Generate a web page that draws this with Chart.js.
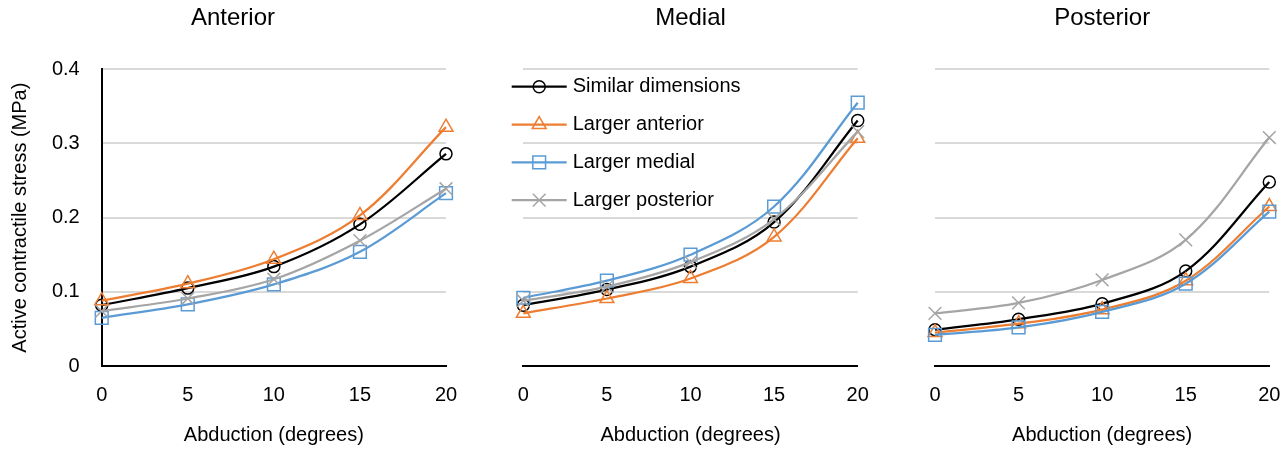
<!DOCTYPE html>
<html>
<head>
<meta charset="utf-8">
<script src="https://cdn.jsdelivr.net/npm/chart.js@4.4.0/dist/chart.umd.min.js"></script>
<style>
  body { margin: 0; background: #fff; }
  #wrap { position: relative; width: 1281px; height: 450px; overflow: hidden; background: #fff; }
  canvas { position: absolute; top: 0; }
</style>
</head>
<body>
<div id="wrap">
  <canvas id="anterior" width="460" height="450" style="left:0px"></canvas>
  <canvas id="medial" width="420" height="450" style="left:460px"></canvas>
  <canvas id="posterior" width="401" height="450" style="left:880px"></canvas>
</div>
<script>
// x categories (abduction angle, degrees)
const abduction = ['0', '5', '10', '15', '20'];
const seriesNames = ['Similar dimensions', 'Larger anterior', 'Larger medial', 'Larger posterior'];

// Anterior panel (MPa)
const antSimilar   = [0.082, 0.105, 0.134, 0.191, 0.286];
const antLargerAnt = [0.088, 0.111, 0.144, 0.203, 0.322];
const antLargerMed = [0.065, 0.083, 0.110, 0.154, 0.233];
const antLargerPost = [0.074, 0.091, 0.117, 0.169, 0.239];

// Medial panel
const medSimilar   = [0.082, 0.103, 0.134, 0.194, 0.331];
const medLargerAnt = [0.071, 0.091, 0.118, 0.174, 0.307];
const medLargerMed = [0.092, 0.115, 0.150, 0.215, 0.355];
const medLargerPost = [0.088, 0.107, 0.140, 0.198, 0.316];

// Posterior panel
const postSimilar   = [0.049, 0.063, 0.084, 0.128, 0.248];
const postLargerAnt = [0.045, 0.057, 0.076, 0.115, 0.215];
const postLargerMed = [0.042, 0.052, 0.073, 0.111, 0.208];
const postLargerPost = [0.071, 0.085, 0.116, 0.170, 0.308];

const FONT = "'Liberation Sans', Arial, sans-serif";
Chart.defaults.font.family = FONT;
Chart.defaults.font.size = 20;
Chart.defaults.color = '#000';

const seriesStyles = [
  { color: '#000000', point: 'circle', r: 6 },
  { color: '#ED7D31', point: 'triangle', r: 8 },
  { color: '#5B9BD5', point: 'rect', r: 9 },
  { color: '#A5A5A5', point: 'crossRot', r: 9 }
];

function makeDatasets(values) {
  return values.map((v, i) => ({
    label: seriesNames[i],
    data: v,
    borderColor: seriesStyles[i].color,
    backgroundColor: 'rgba(0,0,0,0)',
    borderWidth: 2.25,
    pointStyle: seriesStyles[i].point,
    pointRadius: seriesStyles[i].r,
    pointBorderWidth: 1.5,
    pointBorderColor: seriesStyles[i].color,
    pointBackgroundColor: 'rgba(0,0,0,0)',
    tension: 0.35,
    order: 3 - i
  }));
}

// legend drawn as line + marker, like the spreadsheet one
const lineLegend = {
  id: 'lineLegend',
  afterDatasetsDraw(chart, args, opts) {
    if (!opts || !opts.display) return;
    const ctx = chart.ctx;
    const area = chart.chartArea;
    ctx.save();
    chart.data.datasets.forEach((ds, i) => {
      const y = area.top + opts.top + i * opts.rowHeight;
      const x0 = area.left + opts.left;
      ctx.strokeStyle = ds.borderColor;
      ctx.lineWidth = ds.borderWidth;
      ctx.beginPath();
      ctx.moveTo(x0, y);
      ctx.lineTo(x0 + opts.lineLength, y);
      ctx.stroke();
      ctx.lineWidth = ds.pointBorderWidth;
      ctx.fillStyle = 'rgba(0,0,0,0)';
      Chart.helpers.drawPoint(ctx, {
        pointStyle: ds.pointStyle, radius: ds.pointRadius, rotation: 0, borderWidth: ds.pointBorderWidth
      }, x0 + opts.lineLength / 2, y);
      ctx.fillStyle = '#000';
      ctx.font = '20px ' + FONT;
      ctx.textBaseline = 'middle';
      ctx.textAlign = 'left';
      ctx.fillText(ds.label, x0 + opts.lineLength + opts.gap, y);
    });
    ctx.restore();
  }
};

function buildChart(id, title, datasets, pad, showY, legend) {
  return new Chart(document.getElementById(id), {
    type: 'line',
    data: { labels: abduction, datasets: datasets },
    plugins: [lineLegend],
    options: {
      responsive: false,
      animation: false,
      devicePixelRatio: 1,
      layout: { padding: { left: pad.left, right: pad.right, top: 0, bottom: 0 } },
      plugins: {
        legend: { display: false },
        tooltip: { enabled: false },
        title: {
          display: true, text: title, color: '#000',
          font: { size: 24, weight: 'normal' },
          padding: { top: 4, bottom: 36.5 }
        },
        lineLegend: legend
      },
      scales: {
        x: {
          grid: { display: false, drawTicks: false },
          border: { display: true, color: '#000', width: 2 },
          ticks: { padding: 17, maxRotation: 0, autoSkip: false },
          title: { display: true, text: 'Abduction (degrees)', padding: { top: 0, bottom: 3 } },
          afterFit: s => { s.height = 84; s.paddingLeft = 0; s.paddingRight = 0; }
        },
        y: {
          min: 0, max: 0.4,
          grid: {
            color: c => (c.tick && c.tick.value === 0) ? 'rgba(0,0,0,0)' : '#D9D9D9',
            lineWidth: 2, drawTicks: false
          },
          border: { display: showY, color: '#000', width: 2 },
          ticks: { display: showY, stepSize: 0.1, padding: 22 },
          title: {
            display: showY, text: 'Active contractile stress (MPa)',
            padding: { top: -12, bottom: 0 }
          },
          afterFit: s => { s.width = pad.yWidth; }
        }
      }
    }
  });
}

buildChart('anterior', 'Anterior',
  makeDatasets([antSimilar, antLargerAnt, antLargerMed, antLargerPost]),
  { left: 20, right: 14, yWidth: 81.7 }, true, { display: false });

buildChart('medial', 'Medial',
  makeDatasets([medSimilar, medLargerAnt, medLargerMed, medLargerPost]),
  { left: 63.3, right: 22.3, yWidth: 0 }, false,
  { display: true, left: -11.6, top: 17.4, rowHeight: 37.8, lineLength: 55, gap: 6 });

buildChart('posterior', 'Posterior',
  makeDatasets([postSimilar, postLargerAnt, postLargerMed, postLargerPost]),
  { left: 55, right: 11.7, yWidth: 0 }, false, { display: false });
</script>
</body>
</html>
